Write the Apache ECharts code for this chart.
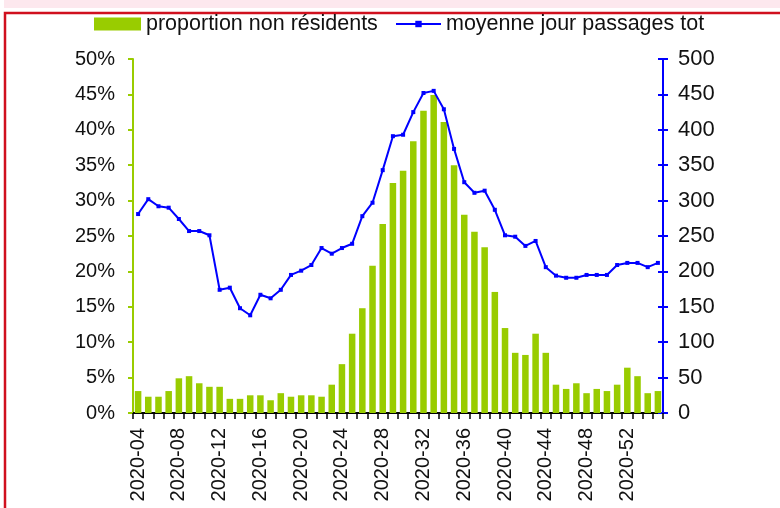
<!DOCTYPE html>
<html>
<head>
<meta charset="utf-8">
<script src="https://cdn.jsdelivr.net/npm/echarts@6/dist/echarts.min.js"></script>
<style>
html,body{margin:0;padding:0;background:#fff;}
#c{width:780px;height:508px;}
</style>
</head>
<body>
<div id="c"></div>
<script>
const weeks = [];
for (let w = 4; w <= 53; w++) weeks.push('2020-' + (w < 10 ? '0' + w : '' + w));
weeks.push('2021-01', '2021-02');

const nonResidentShare = [
  3.1, 2.3, 2.3, 3.1, 4.9, 5.2, 4.2, 3.7, 3.7, 2.0,
  2.0, 2.5, 2.5, 1.8, 2.8, 2.3, 2.5, 2.5, 2.3, 4.0,
  6.9, 11.2, 14.8, 20.8, 26.7, 32.5, 34.2, 38.4, 42.7, 44.9,
  41.1, 35.0, 28.0, 25.6, 23.4, 17.1, 12.0, 8.5, 8.2, 11.2,
  8.5, 4.0, 3.4, 4.2, 2.8, 3.4, 3.1, 4.0, 6.4, 5.2,
  2.8, 3.1
].map(v => v / 100);

const dailyPassages = [
  281, 302, 292, 290, 274, 257, 257, 251, 174, 177,
  148, 138, 167, 162, 174, 195, 201, 209, 233, 225,
  233, 239, 278, 297, 343, 391, 393, 425, 452, 455,
  429, 373, 326, 311, 314, 287, 251, 249, 236, 243,
  206, 194, 191, 191, 195, 195, 195, 209, 212, 212,
  206, 212
];

const leftTicks = { min: 0, max: 0.5, interval: 0.05 };
const rightTicks = { min: 0, max: 500, interval: 50 };

const FONT = 'Liberation Sans, Arial, sans-serif';
const GREEN = '#99cc00';
const BLUE = '#0000ff';

const chart = echarts.init(document.getElementById('c'), null, { renderer: 'canvas' });
chart.setOption({
  animation: false,
  backgroundColor: '#ffffff',
  textStyle: { fontFamily: FONT },
  graphic: [
    { type: 'rect', shape: { x: 4, y: 0, width: 800, height: 8 }, style: { fill: '#fde8ee' }, silent: true },
    { type: 'rect', shape: { x: 5, y: 13, width: 820, height: 540 }, style: { fill: 'none', stroke: '#d0101e', lineWidth: 2.5 }, silent: true }
  ],
  legend: [
    {
      data: [{ name: 'proportion non résidents', icon: 'rect' }],
      left: 94, top: 13, padding: 0,
      itemWidth: 47, itemHeight: 13,
      textStyle: { fontSize: 21.5, color: '#111', fontFamily: FONT }
    },
    {
      data: ['moyenne jour passages tot'],
      left: 395, top: 13, padding: 0,
      itemWidth: 45, itemHeight: 8,
      textStyle: { fontSize: 21.5, color: '#111', fontFamily: FONT }
    }
  ],
  grid: { left: 133, right: 117, top: 59, bottom: 95, containLabel: false },
  xAxis: {
    type: 'category',
    data: weeks,
    boundaryGap: true,
    axisLine: { lineStyle: { color: '#000', width: 2 } },
    axisTick: { show: true, alignWithLabel: false, interval: 0, length: 6, lineStyle: { color: '#000', width: 1.5 } },
    axisLabel: { interval: 3, rotate: 90, margin: 15, fontSize: 20, color: '#111', fontFamily: FONT },
    splitLine: { show: false }
  },
  yAxis: [
    {
      type: 'value', position: 'left',
      min: leftTicks.min, max: leftTicks.max, interval: leftTicks.interval,
      axisLine: { show: true, lineStyle: { color: GREEN, width: 2 } },
      axisTick: { show: true, length: 5, lineStyle: { color: GREEN, width: 2 } },
      axisLabel: { margin: 18, fontSize: 20, color: '#111', fontFamily: FONT,
        formatter: v => Math.round(v * 100) + '%' },
      splitLine: { show: false }
    },
    {
      type: 'value', position: 'right',
      min: rightTicks.min, max: rightTicks.max, interval: rightTicks.interval,
      axisLine: { show: true, lineStyle: { color: BLUE, width: 2 } },
      axisTick: { show: true, length: 5, lineStyle: { color: BLUE, width: 2 } },
      axisLabel: { margin: 15, fontSize: 22, color: '#111', fontFamily: FONT },
      splitLine: { show: false }
    },
    {
      type: 'value', position: 'right',
      min: rightTicks.min, max: rightTicks.max, interval: rightTicks.interval,
      axisLine: { show: false },
      axisTick: { show: true, inside: true, length: 5, lineStyle: { color: BLUE, width: 2 } },
      axisLabel: { show: false },
      splitLine: { show: false }
    }
  ],
  series: [
    {
      name: 'proportion non résidents',
      type: 'bar',
      yAxisIndex: 0,
      data: nonResidentShare,
      barCategoryGap: '36%',
      itemStyle: { color: GREEN },
      z: 2
    },
    {
      name: 'moyenne jour passages tot',
      type: 'line',
      yAxisIndex: 1,
      data: dailyPassages,
      symbol: 'rect',
      symbolSize: 4,
      showAllSymbol: true,
      itemStyle: { color: BLUE },
      lineStyle: { color: BLUE, width: 2 },
      z: 3
    }
  ]
});
</script>
</body>
</html>
